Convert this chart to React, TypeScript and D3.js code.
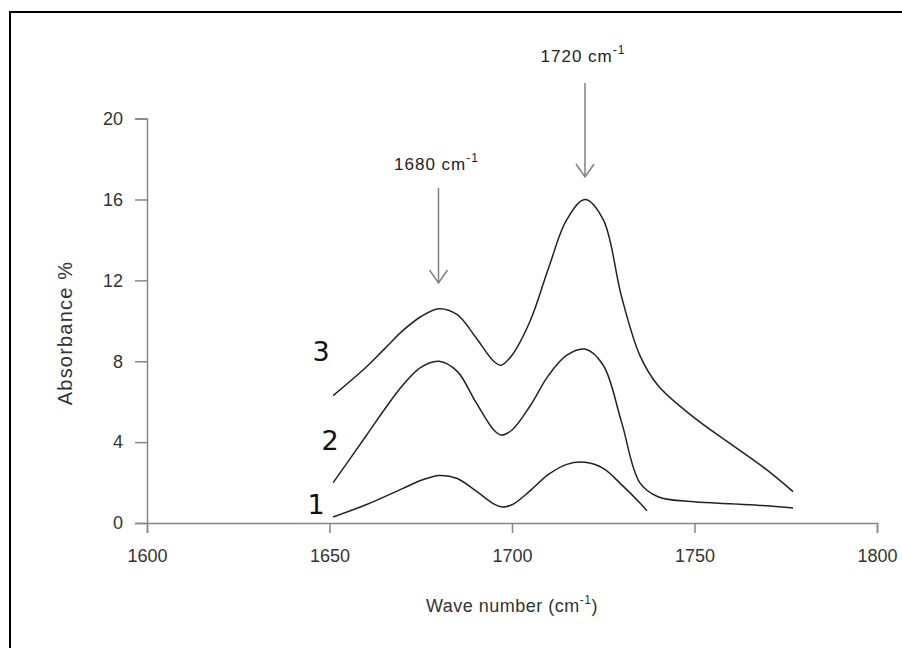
import React from 'react';
import * as d3 from 'd3';

// wave numbers (cm-1)
const waveA = [1651, 1660, 1665, 1670, 1675, 1680, 1685, 1690, 1695, 1697, 1700, 1705, 1710, 1715, 1720, 1725, 1730, 1735, 1740, 1750, 1760, 1770, 1777];
const curve3 = [6.3, 7.7, 8.6, 9.5, 10.2, 10.6, 10.3, 9.2, 8.0, 7.8, 8.3, 10.0, 12.6, 15.0, 16.0, 15.0, 11.2, 8.3, 6.8, 5.2, 3.9, 2.6, 1.55];
const curve2 = [2.0, 4.3, 5.6, 6.8, 7.7, 8.0, 7.5, 6.0, 4.6, 4.35, 4.6, 5.8, 7.3, 8.3, 8.6, 7.8, 5.0, 2.0, 1.3, 1.05, 0.95, 0.85, 0.74];
const waveB = [1651, 1660, 1670, 1675, 1680, 1685, 1690, 1695, 1697, 1700, 1705, 1710, 1715, 1720, 1725, 1730, 1735, 1737];
const curve1 = [0.3, 0.9, 1.7, 2.1, 2.35, 2.2, 1.6, 0.95, 0.8, 0.9, 1.6, 2.4, 2.9, 3.0, 2.7, 1.9, 1.0, 0.6];

const xTicks = [1600, 1650, 1700, 1750, 1800];
const yTicks = [0, 4, 8, 12, 16, 20];

const curveLabels = ['3', '2', '1'];
const peakLabels = [1680, 1720];

export default function App() {
  const ref = React.useRef<SVGSVGElement>(null);

  React.useEffect(() => {
    const svg = d3.select(ref.current);
    svg.selectAll('*').remove();

    const x = d3.scaleLinear([1600, 1800], [147, 877]);
    const y = d3.scaleLinear([0, 20], [523, 118.6]);
    const axisColor = '#868686';
    const textColor = '#333';

    // frame
    svg.append('rect').attr('x', 10).attr('y', 12).attr('width', 1000).attr('height', 1000)
      .attr('fill', 'white').attr('stroke', 'black').attr('stroke-width', 2);

    // axes
    const yAxis = svg.append('g').attr('transform', `translate(${x(1600)},0)`)
      .call(d3.axisLeft(y).tickValues(yTicks).tickSize(12).tickPadding(12).tickFormat(d3.format('d')));
    const xAxis = svg.append('g').attr('transform', `translate(0,${y(0)})`)
      .call(d3.axisBottom(x).tickValues(xTicks).tickSize(10).tickPadding(16).tickFormat(d3.format('d')));
    [xAxis, yAxis].forEach((g) => {
      g.select('.domain').attr('stroke', axisColor).attr('stroke-width', 1.5);
      g.selectAll('.tick line').attr('stroke', axisColor).attr('stroke-width', 1.5);
      g.selectAll('.tick text').attr('fill', textColor)
        .attr('font-family', '"Liberation Sans", sans-serif').attr('font-size', 18);
    });

    // axis titles
    const xt = svg.append('text').attr('x', 512).attr('y', 612).attr('text-anchor', 'middle')
      .attr('font-family', '"Liberation Sans", sans-serif').attr('font-size', 18).attr('fill', textColor)
      .attr('letter-spacing', 0.5);
    xt.append('tspan').text('Wave number (cm');
    xt.append('tspan').attr('dy', -8).attr('font-size', 12).text('-1');
    xt.append('tspan').attr('dy', 8).text(')');

    svg.append('text').attr('transform', 'translate(72,333) rotate(-90)').attr('text-anchor', 'middle')
      .attr('font-family', '"Liberation Sans", sans-serif').attr('font-size', 20).attr('fill', textColor)
      .attr('letter-spacing', 1.2).text('Absorbance %');

    // curves
    const line = d3.line<[number, number]>().x((d) => x(d[0])).y((d) => y(d[1])).curve(d3.curveCatmullRom.alpha(0.5));
    const series: [number[], number[]][] = [[waveA, curve3], [waveA, curve2], [waveB, curve1]];
    series.forEach(([w, v]) => {
      svg.append('path').datum(w.map((d, i) => [d, v[i]] as [number, number]))
        .attr('d', line).attr('fill', 'none').attr('stroke', '#222').attr('stroke-width', 1.5);
    });

    // curve numbers next to the start of each curve
    const labelPos = [[321, 361], [330, 450], [316, 514]];
    curveLabels.forEach((t, i) => {
      svg.append('text').attr('x', labelPos[i][0]).attr('y', labelPos[i][1]).attr('text-anchor', 'middle')
        .attr('font-family', '"DejaVu Sans", sans-serif').attr('font-size', 27).attr('fill', '#111').text(t);
    });

    // peak annotations with arrows
    const arrowTop = [188, 83];
    const arrowEnd = [283, 177];
    const textY = [170, 62];
    peakLabels.forEach((p, i) => {
      const px = x(p) + (i === 0 ? -0.5 : 0);
      const t = svg.append('text').attr('x', px - 2).attr('y', textY[i]).attr('text-anchor', 'middle')
        .attr('font-family', '"Liberation Sans", sans-serif').attr('font-size', 17).attr('fill', '#222')
        .attr('letter-spacing', 1);
      t.append('tspan').text(`${p} cm`);
      t.append('tspan').attr('dy', -8).attr('font-size', 12).text('-1');
      svg.append('line').attr('x1', px).attr('x2', px).attr('y1', arrowTop[i]).attr('y2', arrowEnd[i])
        .attr('stroke', '#808080').attr('stroke-width', 1.5);
      svg.append('path').attr('d', `M${px - 9},${arrowEnd[i] - 13}L${px},${arrowEnd[i]}L${px + 9},${arrowEnd[i] - 13}`)
        .attr('fill', 'none').attr('stroke', '#808080').attr('stroke-width', 1.5);
    });
  }, []);

  return (
    <svg ref={ref} width={902} height={648}
      style={{ position: 'absolute', left: 0, top: 0, background: 'white' }} />
  );
}
